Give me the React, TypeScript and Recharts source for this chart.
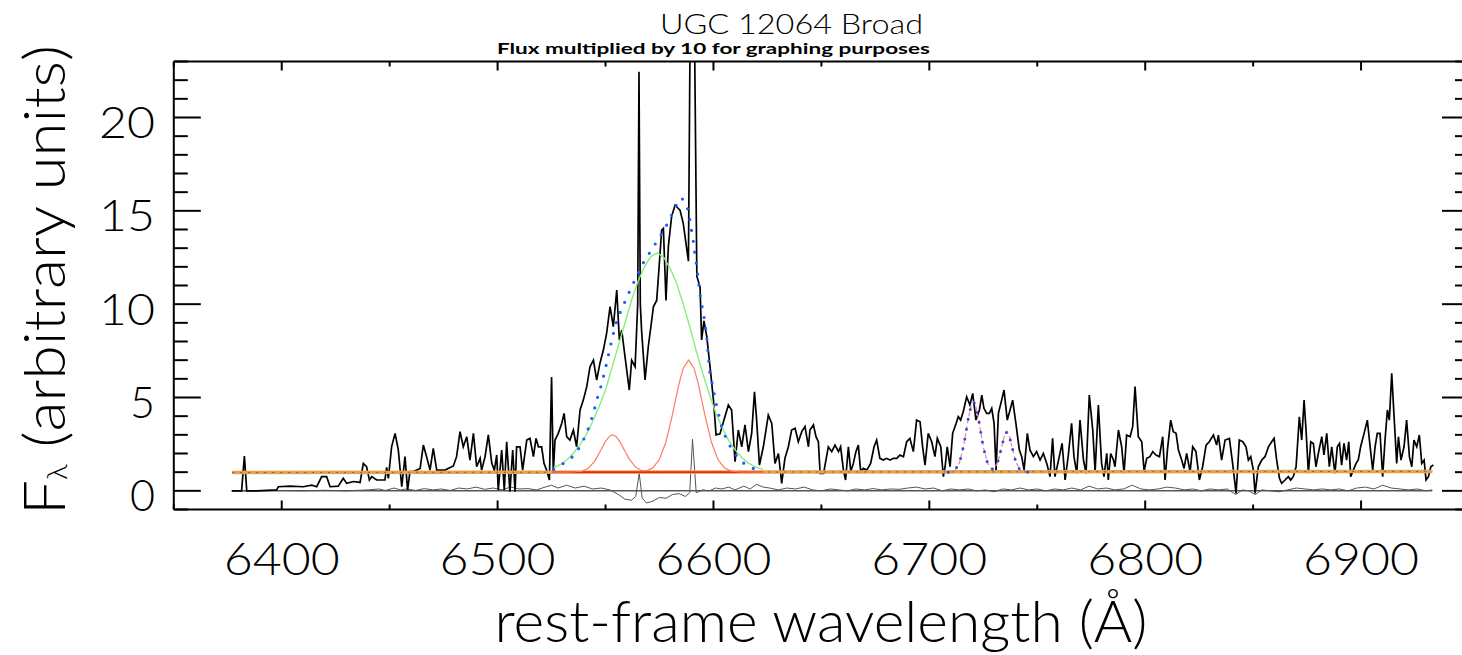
import React from 'react';
import { LineChart, Line, XAxis, YAxis } from 'recharts';

const FONT = "Lato, 'Open Sans', 'DejaVu Sans', sans-serif";

// ---- observed spectrum (flux x10) ----
const specWave = [
  6376.8, 6381.4, 6382.7, 6383.8, 6388.4, 6393.0, 6397.7, 6398.4, 6403.8, 6410.0,
  6413.9, 6416.2, 6418.5, 6420.8, 6422.4, 6426.2, 6428.5, 6430.1, 6433.2, 6436.3,
  6437.8, 6439.3, 6440.6, 6441.7, 6444.0, 6447.8, 6448.6, 6449.4, 6450.9, 6452.5,
  6454.0, 6455.6, 6457.1, 6458.3, 6459.4, 6461.0, 6464.1, 6465.6, 6467.1, 6468.7,
  6470.2, 6471.8, 6475.6, 6479.5, 6481.0, 6482.6, 6484.1, 6485.7, 6487.2, 6488.8,
  6490.3, 6491.9, 6492.6, 6494.2, 6495.7, 6497.3, 6498.5, 6499.6, 6500.3, 6501.9,
  6503.1, 6504.2, 6505.7, 6507.0, 6508.1, 6508.8, 6510.4, 6511.6, 6513.5, 6515.0,
  6516.6, 6517.8, 6518.9, 6520.4, 6521.5, 6522.7, 6524.0, 6525.0, 6525.8, 6526.6,
  6528.1, 6529.7, 6530.8, 6532.0, 6533.5, 6535.1, 6536.6, 6538.2, 6539.7, 6541.3,
  6542.8, 6544.4, 6545.9, 6547.4, 6549.0, 6550.5, 6552.1, 6553.6, 6555.2, 6556.4,
  6557.5, 6559.0, 6561.0, 6562.1, 6563.7, 6564.9, 6565.5, 6566.1, 6566.7, 6568.3,
  6569.8, 6572.2, 6573.7, 6575.0, 6576.0, 6576.8, 6578.0, 6579.1, 6580.6, 6582.2,
  6584.5, 6586.0, 6588.4, 6589.4, 6590.3, 6591.1, 6592.3, 6593.8, 6594.5, 6595.6,
  6596.9, 6598.4, 6600.0, 6601.2, 6603.0, 6605.3, 6606.9, 6608.4, 6610.0, 6611.5,
  6613.1, 6614.6, 6616.2, 6617.7, 6619.0, 6620.0, 6621.3, 6623.1, 6625.4, 6627.0,
  6628.5, 6630.1, 6631.6, 6633.1, 6634.7, 6636.2, 6637.8, 6639.3, 6640.9, 6642.4,
  6644.0, 6644.7, 6646.3, 6647.5, 6648.6, 6649.4, 6651.0, 6653.2, 6654.8, 6656.3,
  6657.9, 6658.9, 6660.2, 6661.2, 6662.5, 6663.6, 6664.8, 6666.0, 6667.1, 6668.2,
  6669.4, 6671.0, 6672.8, 6674.4, 6675.6, 6677.1, 6678.7, 6680.2, 6681.8, 6683.3,
  6684.9, 6686.4, 6688.0, 6689.5, 6691.0, 6692.6, 6694.1, 6695.7, 6696.9, 6698.0,
  6699.5, 6701.1, 6702.6, 6703.7, 6705.3, 6706.5, 6707.3, 6708.3, 6709.6, 6710.8,
  6712.4, 6713.4, 6714.5, 6715.7, 6717.3, 6718.8, 6720.1, 6721.6, 6723.2, 6724.3,
  6725.3, 6726.6, 6727.8, 6728.9, 6730.0, 6730.9, 6732.0, 6733.5, 6734.6, 6736.1,
  6737.4, 6738.6, 6740.1, 6741.7, 6742.8, 6743.9, 6745.4, 6746.6, 6748.2, 6749.7,
  6751.3, 6752.8, 6754.4, 6755.9, 6757.1, 6758.2, 6760.2, 6761.5, 6762.9, 6764.4,
  6765.9, 6767.0, 6768.3, 6769.8, 6771.4, 6772.6, 6774.1, 6775.7, 6776.8, 6778.3,
  6779.8, 6780.9, 6782.2, 6782.9, 6784.0, 6785.3, 6786.0, 6787.6, 6789.1, 6790.2,
  6791.4, 6793.0, 6794.2, 6795.3, 6796.8, 6798.4, 6799.5, 6800.7, 6802.2, 6803.5,
  6805.0, 6806.6, 6808.1, 6809.2, 6810.3, 6811.8, 6813.0, 6814.3, 6815.4, 6816.9,
  6818.0, 6819.2, 6820.8, 6822.0, 6823.5, 6825.1, 6826.6, 6828.2, 6829.7, 6831.6,
  6833.1, 6833.9, 6835.4, 6837.0, 6839.0, 6840.5, 6842.1, 6843.6, 6845.2, 6846.7,
  6847.8, 6848.9, 6850.1, 6850.9, 6852.4, 6854.0, 6855.5, 6857.1, 6858.6, 6859.7,
  6860.9, 6862.2, 6863.2, 6864.8, 6866.3, 6867.4, 6868.6, 6869.9, 6871.4, 6872.5,
  6873.6, 6874.5, 6875.6, 6876.7, 6877.9, 6879.1, 6880.2, 6881.8, 6882.8, 6884.1,
  6885.3, 6886.4, 6887.9, 6889.0, 6890.0, 6891.0, 6892.1, 6893.3, 6894.3, 6895.2,
  6896.4, 6897.7, 6898.7, 6899.8, 6901.4, 6902.9, 6904.2, 6905.4, 6906.5, 6907.5,
  6908.8, 6910.0, 6911.1, 6912.2, 6913.1, 6914.2, 6915.3, 6916.5, 6917.3, 6918.5,
  6919.9, 6921.1, 6922.4, 6923.5, 6924.5, 6925.8, 6927.0, 6928.1, 6929.2, 6930.1,
  6931.2, 6932.3, 6933.5,
];
const specFlux = [
  0.0, 0.0, 1.86, 0.0, 0.0, 0.02, 0.05, 0.22, 0.25, 0.22,
  0.3, 0.22, 0.76, 0.76, 0.22, 0.25, 0.67, 0.4, 0.5, 0.45,
  1.47, 1.3, 0.58, 0.76, 0.58, 0.58, 1.26, 0.67, 2.36, 3.08,
  2.19, 0.22, 1.83, 0.04, 1.03, 1.03, 1.2, 2.45, 1.83, 1.11,
  2.27, 1.11, 1.11, 1.33, 1.83, 3.17, 2.36, 2.9, 1.65, 3.08,
  1.29, 1.74, 1.11, 1.83, 3.0, 1.47, 1.11, 1.92, 0.04, 2.19,
  0.04, 2.63, -0.05, 2.19, -0.05, 2.36, 2.36, 1.11, 2.72, 2.81,
  1.83, 2.81, 2.36, 2.36, 1.47, 1.11, 0.58, 6.1, 1.0, 2.72,
  3.08, 3.61, 4.15, 2.9, 2.72, 3.26, 2.36, 4.33, 4.86, 5.58,
  6.65, 7.0, 5.93, 6.83, 7.54, 8.44, 9.87, 8.8, 10.76, 8.08,
  8.6, 7.2, 5.4, 7.0, 6.65, 10.0, 22.45, 10.0, 8.6, 5.94,
  7.72, 9.87, 10.2, 12.3, 13.97, 14.06, 10.2, 13.08, 14.69, 15.3,
  15.04, 14.33, 12.3, 28.0, 29.0, 26.0, 11.5, 10.9, 8.08, 9.1,
  8.26, 6.65, 4.86, 3.0, 3.05, 3.97, 4.6, 4.33, 1.56, 3.26,
  2.36, 3.53, 2.1, 3.08, 5.31, 3.79, 1.38, 2.36, 4.06, 3.61,
  1.47, 2.0, 0.4, 1.74, 2.36, 3.26, 3.35, 2.63, 3.17, 3.44,
  2.36, 3.26, 3.53, 2.9, 2.63, 0.94, 0.94, 2.36, 2.1, 2.45,
  2.1, 2.36, 1.11, 0.58, 2.36, 1.03, 1.47, 2.1, 2.45, 1.03,
  1.2, 1.11, 1.47, 2.36, 2.72, 1.74, 1.65, 1.74, 1.65, 1.74,
  1.74, 1.92, 1.83, 2.63, 2.81, 2.1, 3.79, 3.7, 2.36, 1.38,
  3.08, 2.63, 1.83, 2.81, 2.36, 0.76, 1.29, 2.36, 1.29, 3.08,
  3.61, 3.97, 3.79, 4.24, 5.04, 4.6, 5.22, 3.79, 4.33, 5.13,
  4.42, 4.15, 4.15, 4.42, 3.61, 1.11, 4.15, 4.86, 5.4, 3.79,
  4.33, 4.86, 3.61, 2.19, 1.83, 1.11, 3.08, 2.19, 1.83, 2.1,
  1.65, 2.0, 1.47, 0.76, 2.81, 0.76, 1.83, 2.54, 0.58, 1.92,
  3.62, 1.83, 0.94, 3.79, 1.65, 0.94, 5.13, 3.26, 1.03, 4.6,
  1.47, 0.76, 2.01, 0.58, 2.0, 1.65, 1.29, 3.26, 2.36, 0.94,
  2.99, 2.9, 3.44, 5.58, 2.9, 2.63, 1.04, 1.74, 1.83, 2.1,
  1.92, 1.83, 2.9, 0.58, 2.19, 3.79, 3.17, 3.08, 2.19, 1.65,
  1.2, 2.0, 1.03, 2.36, 2.1, 0.58, 1.29, 2.45, 2.63, 2.99,
  2.45, 2.99, 1.65, 2.72, 2.81, 1.47, -0.14, 2.72, 2.63, 2.36,
  1.65, 1.83, 1.11, -0.14, 1.29, 1.65, 1.83, 2.36, 2.63, 2.81,
  1.65, 0.67, 0.4, 0.58, 0.76, 0.58, 0.76, 1.29, 3.97, 2.72,
  4.86, 3.26, 0.94, 2.63, 2.54, 1.29, 2.0, 2.9, 1.92, 3.08,
  1.29, 2.36, 0.94, 2.36, 2.54, 1.38, 2.54, 1.65, 2.63, 0.76,
  1.11, 1.47, 1.65, 2.36, 3.08, 3.79, 2.36, 1.11, 2.36, 3.08,
  3.08, 0.76, 2.72, 4.33, 3.79, 6.3, 3.97, 1.47, 2.9, 1.65,
  2.36, 3.79, 1.83, 1.29, 2.72, 2.36, 2.99, 1.47, 1.65, 0.58,
  0.76, 1.29, 1.38,
];

// ---- residual ----
const resWave = [
  6377, 6390, 6400, 6410, 6420, 6430, 6440, 6445, 6448, 6452, 6455, 6458, 6462, 6466, 6470,
  6474, 6478, 6482, 6486, 6490, 6494, 6498, 6502, 6506, 6510, 6514, 6518, 6522, 6525, 6528,
  6532, 6536, 6540, 6544, 6548, 6552, 6556, 6559, 6562, 6564, 6565.6, 6567, 6569, 6572, 6575,
  6578, 6581, 6584, 6587, 6589, 6590.3, 6592, 6595, 6598, 6601, 6604, 6607, 6610, 6614, 6617,
  6620, 6623, 6626, 6630, 6634, 6638, 6642, 6646, 6650, 6654, 6658, 6662, 6666, 6670, 6674,
  6678, 6682, 6686, 6690, 6694, 6698, 6702, 6706, 6710, 6714, 6718, 6722, 6726, 6730, 6734,
  6738, 6742, 6746, 6750, 6754, 6758, 6762, 6766, 6770, 6774, 6778, 6782, 6786, 6790, 6794,
  6798, 6802, 6806, 6810, 6814, 6818, 6822, 6826, 6830, 6834, 6838, 6842, 6845, 6848, 6851,
  6854, 6858, 6862, 6866, 6870, 6874, 6878, 6882, 6886, 6890, 6894, 6898, 6902, 6906, 6910,
  6914, 6918, 6922, 6926, 6930, 6933,
];
const resFlux = [
  0, 0, 0.02, 0, 0.03, 0, 0.05, 0.1, 0.02, 0.15, 0.05, 0.1, 0.02, 0.12, 0.05,
  0.1, 0.02, 0.15, 0.1, 0.2, 0.08, 0.15, 0.05, 0.2, 0.1, 0.12, 0.05, 0.2, 0.3, 0.15,
  0.3, 0.15, 0.25, 0.1, 0.15, 0.05, -0.2, -0.45, -0.5, -0.3, 0.94, -0.4, -0.65, -0.55, -0.35,
  -0.4, -0.2, -0.15, -0.3, -0.1, 2.76, -0.1, 0.05, 0.0, 0.15, 0.1, 0.2, 0.05, 0.25, 0.1,
  0.35, 0.2, 0.15, 0.05, 0.15, 0.1, 0.2, 0.05, 0.0, 0.1, 0.05, 0.0, 0.1, 0.05, 0.12,
  0.05, 0.1, 0.08, 0.15, 0.2, 0.1, 0.15, 0.0, 0.1, 0.05, 0.1, 0.0, 0.05, -0.05, 0.1,
  0.05, 0.15, 0.05, 0.1, 0.0, 0.1, 0.05, 0.15, 0.05, 0.25, 0.1, 0.15, 0.05, 0.1, 0.3,
  0.1, 0.05, 0.1, 0.2, 0.15, 0.05, 0.1, 0.0, 0.1, 0.05, 0.1, -0.2, 0.05, 0.0, -0.2,
  0.05, 0.0, -0.05, 0.05, 0.15, 0.1, 0.05, 0.1, 0.05, 0.1, 0.0, 0.15, 0.2, 0.1, 0.3,
  0.15, 0.1, 0.05, 0.1, 0.0, 0.05,
];

// ---- zero level and continuum ----
const zeroWave = [6377, 6933];
const zeroFlux = [0, 0];
const contWave = [6377, 6933];
const contFlux = [0.98, 1.04];
const baseWave = [6526, 6623];
const baseFlux = [1.0, 1.0];

// ---- broad H-alpha component (green) ----
const broadWave = [
  6526, 6529, 6532, 6535, 6538, 6541, 6544, 6547, 6550, 6553, 6556, 6559, 6562, 6565, 6568,
  6571, 6574, 6577, 6580, 6583, 6586, 6589, 6592, 6595, 6598, 6601, 6604, 6607, 6610, 6613,
  6616, 6619, 6623,
];
const broadFlux = [
  1.25, 1.4, 1.65, 2.0, 2.45, 3.0, 3.7, 4.5, 5.4, 6.6, 7.8, 9.0, 10.2, 11.2, 12.0,
  12.55, 12.75, 12.5, 11.9, 11.1, 10.0, 8.8, 7.5, 6.3, 5.2, 4.2, 3.4, 2.7, 2.2, 1.8,
  1.5, 1.3, 1.15,
];

// ---- narrow [NII] components (red) ----
const narrowWave = [
  6526, 6535, 6539, 6542, 6545, 6548, 6550, 6552, 6553.3, 6555, 6557, 6559, 6561, 6564, 6567,
  6569.5, 6572, 6575, 6578, 6581, 6584, 6586, 6588.5, 6591, 6593, 6596, 6599, 6602, 6605, 6608,
  6612, 6623,
];
const narrowFlux = [
  1.0, 1.01, 1.05, 1.21, 1.59, 2.21, 2.65, 2.94, 3.0, 2.9, 2.57, 2.12, 1.7, 1.26, 1.08,
  1.1, 1.24, 1.69, 2.63, 4.08, 5.72, 6.57, 7.0, 6.57, 5.72, 4.08, 2.63, 1.69, 1.24, 1.07,
  1.01, 1.0,
];

// ---- total fit around H-alpha (blue dotted) ----
const totalWave = [
  6526, 6529, 6532, 6535.9, 6538.9, 6541.3, 6542.8, 6544.4, 6545.9, 6547.4, 6549, 6550.5, 6552.9, 6554.4, 6555.9,
  6558.3, 6560.6, 6562.9, 6565.5, 6568, 6571.1, 6574.2, 6577.1, 6579.9, 6582.5, 6585.3, 6587.9, 6589.1, 6589.9, 6590.7,
  6591.5, 6592.5, 6593.5, 6594.5, 6595.6, 6596.9, 6597.6, 6598.4, 6600, 6601.2, 6602.3, 6603.8, 6606.1, 6609.2, 6612.3,
  6615.4, 6618.5, 6623,
];
const totalFlux = [
  1.15, 1.35, 1.6, 1.92, 2.54, 3.08, 3.6, 4.15, 4.86, 5.4, 6.1, 6.83, 8.08, 8.8, 9.33,
  9.95, 10.55, 11.13, 11.74, 12.33, 12.87, 13.44, 13.97, 14.6, 15.26, 15.7, 15.17, 14.5, 13.9, 13.35,
  12.58, 11.83, 10.7, 10.0, 9.33, 8.26, 7.2, 6.3, 5.4, 4.69, 4.15, 3.44, 2.72, 2.1, 1.65,
  1.35, 1.2, 1.08,
];

// ---- [SII] doublet fit ----
const siiWave = [
  6708.8, 6710, 6712, 6714, 6716, 6718, 6719.5, 6720.5, 6721.5, 6723, 6725, 6727, 6729, 6730.5, 6732,
  6733.5, 6735, 6736, 6737, 6738.5, 6740, 6742, 6744, 6746.7,
];
const siiFlux = [
  1.0, 1.02, 1.12, 1.51, 2.47, 3.85, 4.62, 4.77, 4.55, 3.71, 2.34, 1.47, 1.15, 1.27, 1.64,
  2.37, 3.03, 3.17, 2.97, 2.26, 1.57, 1.11, 1.01, 1.0,
];

const xTicks = [6350, 6400, 6450, 6500, 6550, 6600, 6650, 6700, 6750, 6800, 6850, 6900, 6950];
const yTicks = [-1, 0, 1, 2, 3, 4, 5, 6, 7, 8, 9, 10, 11, 12, 13, 14, 15, 16, 17, 18, 19, 20, 21, 22, 23];
const xLabels = [6400, 6500, 6600, 6700, 6800, 6900];
const yLabels = [0, 5, 10, 15, 20];

const pts = (w: number[], f: number[]) => w.map((x, i) => ({ w: x, f: f[i] }));

const BottomTick = (props: any) => {
  const { x, y, payload } = props;
  const v = payload.value;
  const major = v % 100 === 0;
  return (
    <g>
      <line x1={x} y1={y} x2={x} y2={y - (major ? 9 : 5)} stroke="#000" strokeWidth={2} />
      {xLabels.includes(v) ? (
        <text x={x} y={575} textAnchor="middle" fontSize={46} fontFamily={FONT} fontWeight={300} fill="#000" textLength={116} lengthAdjust="spacingAndGlyphs">
          {v}
        </text>
      ) : null}
    </g>
  );
};
const TopTick = (props: any) => {
  const { x, y, payload } = props;
  const major = payload.value % 100 === 0;
  return <line x1={x} y1={y} x2={x} y2={y + (major ? 9 : 5)} stroke="#000" strokeWidth={2} />;
};
const LeftTick = (props: any) => {
  const { x, y, payload } = props;
  const v = payload.value;
  const major = v % 5 === 0;
  const twoDigit = v >= 10;
  return (
    <g>
      <line x1={x} y1={y} x2={x + (major ? 27 : 14)} y2={y} stroke="#000" strokeWidth={2} />
      {yLabels.includes(v) ? (
        <text
          x={155}
          y={y + 20.5}
          textAnchor="end"
          fontSize={43}
          fontFamily={FONT}
          fontWeight={300}
          fill="#000"
          textLength={twoDigit ? 56 : 25}
          lengthAdjust="spacingAndGlyphs"
        >
          {v}
        </text>
      ) : null}
    </g>
  );
};
const RightTick = (props: any) => {
  const { x, y, payload } = props;
  const major = payload.value % 5 === 0;
  return <line x1={x} y1={y} x2={x - (major ? 27 : 14)} y2={y} stroke="#000" strokeWidth={2} />;
};

export default function App() {
  const common = {
    xAxisId: 'b',
    yAxisId: 'l',
    dataKey: 'f',
    dot: false,
    isAnimationActive: false,
    type: 'linear' as const,
    activeDot: false,
  };
  return (
    <div style={{ position: 'absolute', left: 0, top: 0, width: 1462, height: 655, overflow: 'hidden', background: '#fff' }}>
      <LineChart width={1470} height={655} margin={{ top: 0, right: 0, bottom: 0, left: 0 }}>
        <XAxis
          xAxisId="b"
          type="number"
          dataKey="w"
          domain={[6350, 6950]}
          ticks={xTicks}
          interval={0}
          allowDataOverflow
          height={145.5}
          tickSize={0}
          tickMargin={0}
          tickLine={false}
          axisLine={{ stroke: '#000', strokeWidth: 2 }}
          tick={<BottomTick />}
        />
        <XAxis
          xAxisId="t"
          orientation="top"
          type="number"
          dataKey="w"
          domain={[6350, 6950]}
          ticks={xTicks}
          interval={0}
          allowDataOverflow
          height={61.5}
          tickSize={0}
          tickMargin={0}
          tickLine={false}
          axisLine={{ stroke: '#000', strokeWidth: 2 }}
          tick={<TopTick />}
        />
        <YAxis
          yAxisId="l"
          type="number"
          domain={[-1, 23]}
          ticks={yTicks}
          interval={0}
          allowDataOverflow
          width={173.8}
          tickSize={0}
          tickMargin={0}
          tickLine={false}
          axisLine={{ stroke: '#000', strokeWidth: 2 }}
          tick={<LeftTick />}
        />
        <YAxis
          yAxisId="r"
          orientation="right"
          type="number"
          domain={[-1, 23]}
          ticks={yTicks}
          interval={0}
          allowDataOverflow
          width={1}
          tickSize={0}
          tickMargin={0}
          tickLine={false}
          axisLine={{ stroke: '#000', strokeWidth: 2 }}
          tick={<RightTick />}
        />
        <Line {...common} data={pts(zeroWave, zeroFlux)} stroke="#000" strokeWidth={1} />
        <Line {...common} data={pts(resWave, resFlux)} stroke="#555" strokeWidth={1} />
        <Line {...common} data={pts(specWave, specFlux)} stroke="#000" strokeWidth={1.7} />
        <Line {...common} data={pts(contWave, contFlux)} stroke="#E2A24E" strokeWidth={3.5} />
        <Line {...common} data={pts(contWave, contFlux)} stroke="#7a6654" strokeWidth={1} strokeDasharray="2 6" />
        <Line {...common} data={pts(baseWave, baseFlux)} stroke="#F0281A" strokeWidth={1.8} />
        <Line {...common} data={pts(narrowWave, narrowFlux)} stroke="#FF7A6A" strokeWidth={1.2} />
        <Line {...common} data={pts(broadWave, broadFlux)} stroke="#86EE7A" strokeWidth={1.4} />
        <Line {...common} data={pts(siiWave, siiFlux)} stroke="#FF7A8A" strokeWidth={1.2} strokeDasharray="4 3" />
        <Line
          {...common}
          data={pts(totalWave, totalFlux)}
          stroke="#1F5BFF"
          strokeWidth={3.2}
          strokeDasharray="0 11"
          strokeLinecap="round"
        />
        <Line
          {...common}
          data={pts(siiWave, siiFlux)}
          stroke="#3348E0"
          strokeWidth={3}
          strokeDasharray="0 10"
          strokeLinecap="round"
        />
      </LineChart>
      <svg
        width={1462}
        height={655}
        style={{ position: 'absolute', left: 0, top: 0, pointerEvents: 'none' }}
      >
        <text x={791.5} y={34} textAnchor="middle" fontSize={27} fontFamily={FONT} fontWeight={300} fill="#000" textLength={263} lengthAdjust="spacingAndGlyphs">
          UGC 12064 Broad
        </text>
        <text x={713.4} y={54} textAnchor="middle" fontSize={16} fontFamily={FONT} fontWeight={700} fill="#000" textLength={433} lengthAdjust="spacingAndGlyphs">
          Flux multiplied by 10 for graphing purposes
        </text>
        <text x={821} y={642} textAnchor="middle" fontSize={58} fontFamily={FONT} fontWeight={300} fill="#000" textLength={653} lengthAdjust="spacingAndGlyphs">
          rest-frame wavelength (Å)
        </text>
        <text transform="translate(65,515) rotate(-90)" fontSize={58} fontFamily={FONT} fontWeight={300} fill="#000" textLength={470} lengthAdjust="spacingAndGlyphs">
          F<tspan fontSize={28} dy={2}>λ</tspan><tspan dy={-2}> (arbitrary units)</tspan>
        </text>
      </svg>
    </div>
  );
}
